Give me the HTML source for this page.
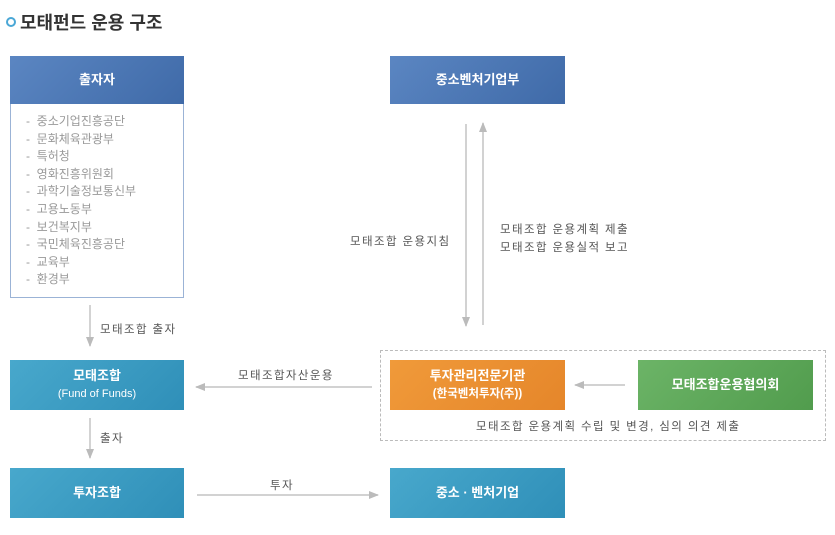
<!DOCTYPE html>
<html><head><meta charset="utf-8"><style>
body{margin:0;width:835px;height:535px;background:#fff;position:relative;overflow:hidden;font-family:"Liberation Sans","Noto Sans CJK KR",sans-serif}
.a{position:absolute}
.box{position:absolute;color:#fff;font-weight:bold;font-size:13px;display:flex;flex-direction:column;align-items:center;justify-content:center;text-align:center;line-height:18px}
.lbl{position:absolute;font-size:11.5px;color:#555;white-space:nowrap;letter-spacing:1.4px}
</style></head><body>
<div class="a" style="left:6px;top:17px;width:6px;height:6px;border:2px solid #4aa7d6;border-radius:50%"></div>
<div class="a" style="left:20px;top:9px;font-size:18px;font-weight:bold;color:#333">모태펀드 운용 구조</div>

<div class="a" style="left:10px;top:56px;width:172px;height:240px;border:1px solid #9bb3d6"></div>
<div class="box" style="left:10px;top:56px;width:174px;height:48px;background:linear-gradient(135deg,#5b86c2,#3f6aa8)">출자자</div>
<div class="a" style="left:26px;top:113px;font-size:12px;color:#999;line-height:17.6px">
- &nbsp;중소기업진흥공단<br>- &nbsp;문화체육관광부<br>- &nbsp;특허청<br>- &nbsp;영화진흥위원회<br>- &nbsp;과학기술정보통신부<br>- &nbsp;고용노동부<br>- &nbsp;보건복지부<br>- &nbsp;국민체육진흥공단<br>- &nbsp;교육부<br>- &nbsp;환경부</div>

<div class="box" style="left:390px;top:56px;width:175px;height:48px;background:linear-gradient(135deg,#5b86c2,#3f6aa8)">중소벤처기업부</div>

<div class="box" style="left:10px;top:360px;width:174px;height:50px;background:linear-gradient(135deg,#48a8cc,#2f8fb8)">모태조합<span style="font-size:11px;font-weight:normal">(Fund of Funds)</span></div>
<div class="box" style="left:10px;top:468px;width:174px;height:50px;background:linear-gradient(135deg,#48a8cc,#2f8fb8)">투자조합</div>
<div class="box" style="left:390px;top:468px;width:175px;height:50px;background:linear-gradient(135deg,#48a8cc,#2f8fb8)">중소 · 벤처기업</div>

<div class="a" style="left:380px;top:350px;width:444px;height:89px;border:1px dashed #bbb"></div>
<div class="box" style="left:390px;top:360px;width:175px;height:50px;background:linear-gradient(135deg,#f09a3a,#e5862a)">투자관리전문기관<span style="font-size:11.5px">(한국벤처투자(주))</span></div>
<div class="box" style="left:638px;top:360px;width:175px;height:50px;background:linear-gradient(135deg,#6cb467,#519c4d)">모태조합운용협의회</div>

<svg class="a" style="left:0;top:0" width="835" height="535">
<defs><marker id="m" markerWidth="10" markerHeight="8" refX="9" refY="4" orient="auto" markerUnits="userSpaceOnUse"><path d="M0,0 L10,4 L0,8 Z" fill="#bbb"/></marker></defs>
<g stroke="#c4c4c4" stroke-width="1.5" fill="none">
<line x1="466" y1="124" x2="466" y2="326" marker-end="url(#m)"/>
<line x1="483" y1="325" x2="483" y2="123" marker-end="url(#m)"/>
<line x1="90" y1="305" x2="90" y2="346" marker-end="url(#m)"/>
<line x1="90" y1="418" x2="90" y2="458" marker-end="url(#m)"/>
<line x1="372" y1="387" x2="196" y2="387" marker-end="url(#m)"/>
<line x1="197" y1="495" x2="378" y2="495" marker-end="url(#m)"/>
<line x1="625" y1="385" x2="575" y2="385" marker-end="url(#m)"/>
</g></svg>

<div class="lbl" style="left:350px;top:233px">모태조합 운용지침</div>
<div class="lbl" style="left:500px;top:221px">모태조합 운용계획 제출</div>
<div class="lbl" style="left:500px;top:239px">모태조합 운용실적 보고</div>
<div class="lbl" style="left:100px;top:321px">모태조합 출자</div>
<div class="lbl" style="left:100px;top:430px">출자</div>
<div class="lbl" style="left:238px;top:367px">모태조합자산운용</div>
<div class="lbl" style="left:270px;top:477px">투자</div>
<div class="lbl" style="left:476px;top:418px">모태조합 운용계획 수립 및 변경, 심의 의견 제출</div>
</body></html>
